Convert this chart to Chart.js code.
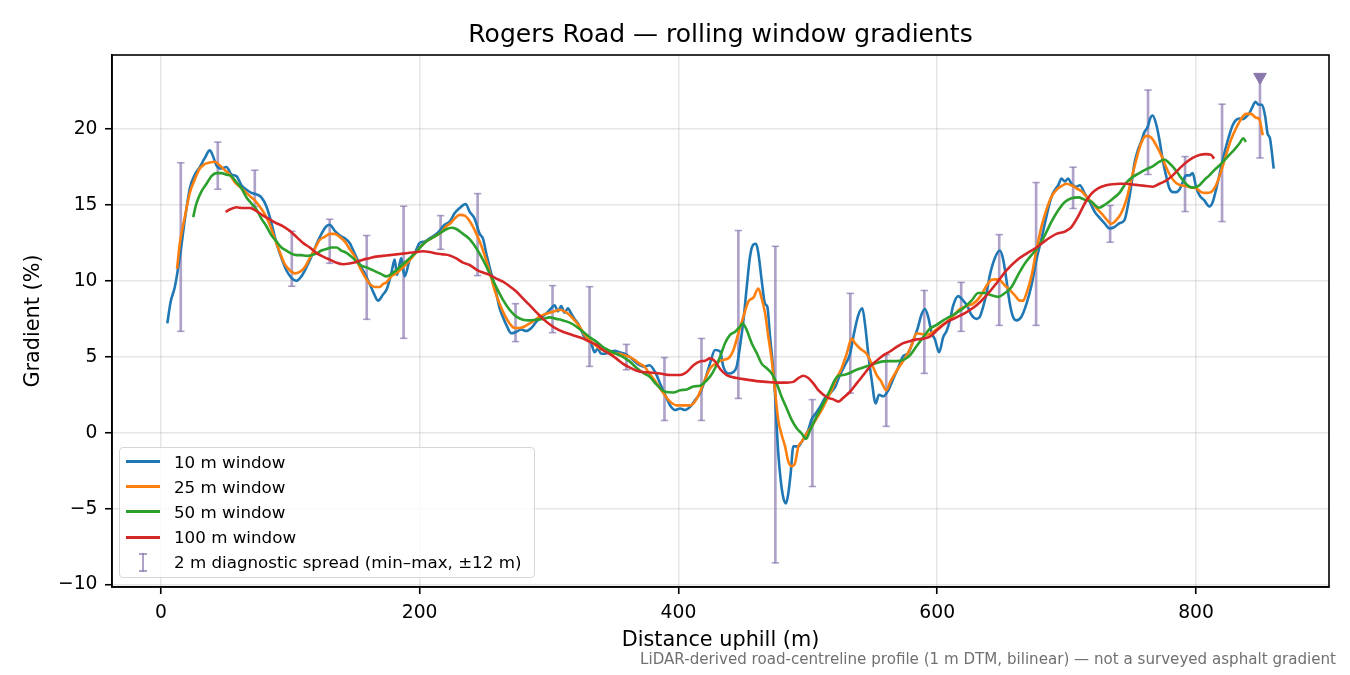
<!DOCTYPE html>
<html>
<head>
<meta charset="utf-8">
<title>Rogers Road — rolling window gradients</title>
<script src="https://cdn.jsdelivr.net/npm/chart.js@4.4.1/dist/chart.umd.min.js"></script>
<style>
  html, body { margin: 0; padding: 0; background: #fff; }
  #wrap { position: relative; width: 1350px; height: 675px; font-family: "DejaVu Sans", sans-serif; }
  #legend { position: absolute; left: 119px; top: 447px; width: 416px; height: 131px; box-sizing: border-box;
            border: 1px solid #d6d6d6; border-radius: 4px; background: rgba(255,255,255,0.8); }
  .row { position: absolute; left: 0; height: 25px; display: flex; align-items: center;
         font-size: 16.7px; color: #000; white-space: nowrap; }
  .swatch { width: 34px; height: 3px; margin-left: 6px; margin-right: 14px; }
  .errglyph { position: relative; width: 34px; height: 19px; margin-left: 6px; margin-right: 14px; }
  .errglyph span { position: absolute; }
  #note { position: absolute; right: 14px; top: 651px; font-size: 15.1px; line-height: 17px;
          color: #707070; white-space: nowrap; }
</style>
</head>
<body>
<div id="wrap">
  <canvas id="c" width="1350" height="675"></canvas>
  <div id="legend"></div>
  <div id="note">LiDAR-derived road-centreline profile (1 m DTM, bilinear) — not a surveyed asphalt gradient</div>
</div>
<script>
// 10 m window
const dist10 = [
  5,7.5,10.8,14.7,18.5,22.4,26.3,30.1,34,37.8,
  40.4,43,46.8,50.7,54.6,58.4,62.3,66.2,70,73.9,
  77.7,81.6,85.5,89.3,93.2,97,100.9,104.8,108.6,112.5,
  116.3,120.2,124.1,127.9,130.5,134.4,138.2,142.1,145.9,149.8,
  153.7,157.5,161.4,164.5,167.8,171.7,174.8,178.1,180.7,182.5,
  185.8,188.4,192.3,196.1,200,203.9,207.7,211.6,215.4,219.3,
  223.2,227,230.9,235.6,238.6,242.5,246.4,248.9,251.5,254.1,
  256.7,259.2,261.8,264.4,267.5,270.8,274.7,278.5,282.4,286.3,
  290.1,294,297.8,301.7,304.3,306.9,309.4,312,314.6,317.1,
  319.7,322.3,324.9,327.4,330,332.6,335.2,337.7,340.3,342.9,
  346.8,350.6,354.5,358.3,362.2,366.1,369.9,373.8,377.6,382,
  385.8,389.7,393.6,397.4,401.3,405.1,409,412.9,416.7,420.6,
  424.5,428.3,432.2,434.7,438.6,442.5,445,447.6,450.2,452.8,
  455.3,457.9,460,461.8,464.3,466.9,468.7,470.8,472.8,474.6,
  475.9,477.2,479,481.1,483.1,484.9,486.7,488.8,490.9,492.7,
  495.2,497.8,500.4,503,505.5,509.4,513.3,517.1,521,524.8,
  528.7,532.6,535.7,539,542.1,544.1,546.7,549.3,552.4,555,
  558.3,562.2,566,569.9,573.7,577.6,581.5,584.6,587.9,590.5,
  593.1,595.6,598.2,601.5,604.6,607.2,609.8,612.4,616.2,620.1,
  623.2,626.5,630.4,633,635.5,638.1,640.7,644.5,648.4,651,
  653.5,656.1,658.7,661.3,665.1,669,672.8,676.7,680.6,684.4,
  688.3,690.9,693.5,696,698.6,701.2,703.7,707.6,710.2,714,
  717.9,721.7,725.5,729.2,733.1,737,740.8,744.7,747.2,749.8,
  752.4,755,757.5,760.1,762.7,764.5,766.5,769.1,771.7,774.3,
  776.8,779.4,782,784.6,787.1,789.7,792.3,794.9,797.4,800,
  802.6,806.4,810.3,812.9,815.4,818,820.6,823.2,825.7,828.3,
  830.9,833.5,836,838.6,841.2,843.8,845.8,848.4,851,853.5,
  855.3,857.1,860
];
const grad10 = [
  7.2,8.6,9.6,11.6,14.0,16.1,17.0,17.5,18.1,18.6,
  18.2,17.6,17.4,17.5,17.0,16.9,16.3,16.0,15.8,15.7,
  15.5,14.9,13.8,12.5,11.5,10.7,10.2,10.0,10.3,10.9,
  11.6,12.4,13.1,13.6,13.7,13.3,13.0,12.8,12.5,11.8,
  11.1,10.5,9.8,9.2,8.7,9.1,9.5,10.5,11.4,10.4,
  11.5,10.3,11.4,11.8,12.5,12.6,12.8,13.0,13.3,13.7,
  13.9,14.45,14.8,15.07,14.56,14.1,13.1,12.8,11.8,10.9,
  10.05,9.2,8.2,7.6,7.0,6.55,6.65,6.8,6.7,6.9,
  7.3,7.6,7.85,8.2,8.4,8.0,8.35,7.9,8.2,7.85,
  7.5,7.2,6.75,6.3,6.2,5.9,5.3,5.55,5.2,5.2,
  5.3,5.4,5.3,5.2,5.0,4.7,4.45,4.35,4.45,4.0,
  3.25,2.5,1.8,1.5,1.6,1.5,1.7,2.15,2.6,3.5,
  4.6,5.45,5.35,4.35,3.9,4.0,4.35,5.7,7.4,9.6,
  11.6,12.4,12.45,11.8,10.05,8.5,8.3,6.3,4.6,2.6,
  0.4,-1.4,-3.1,-4.3,-4.66,-4.0,-2.7,-0.9,-0.9,-0.9,
  -0.6,-0.25,0.2,0.9,1.2,1.7,2.3,2.6,3.0,3.8,
  4.46,5.2,6.55,7.75,8.2,7.2,5.2,3.5,1.93,2.5,
  2.4,2.8,3.55,4.3,5.05,5.25,6.1,6.8,7.8,8.15,
  7.6,6.6,6.15,5.3,6.3,6.7,7.4,8.4,9.0,8.7,
  8.35,7.75,7.5,7.65,8.3,9.2,10.4,11.5,12.0,11.4,
  10.05,8.5,7.6,7.4,7.65,8.5,9.7,11.4,12.8,14.25,
  15.55,16.0,16.3,16.75,16.55,16.75,16.4,16.2,16.3,15.75,
  15.2,14.55,14.15,13.8,13.45,13.55,13.8,14.0,14.9,16.2,
  17.75,18.6,19.15,19.8,20.15,20.7,20.9,20.35,19.3,17.95,
  16.95,16.1,15.85,15.85,16.0,16.5,16.95,16.95,17.1,16.2,
  15.65,15.3,14.9,15.2,16.0,16.95,17.95,18.85,19.6,20.25,
  20.6,20.7,20.65,20.8,21.05,21.5,21.8,21.6,21.6,20.8,
  19.7,19.4,17.4
];

// 25 m window
const dist25 = [
  12.5,14.7,18.5,22.4,26.3,30.1,34,37.8,41.7,45.6,
  49.4,53.3,57.1,61,64.9,68.7,72.6,76.4,80.3,84.2,
  88,91.9,95.8,99.6,103.5,107.3,111.2,115.1,118.9,122.8,
  126.6,130.5,134.4,138.2,142.1,145.9,149.8,153.7,157.5,161.4,
  165.3,169.1,171.7,174.3,178.1,182,185.8,189.7,193.6,197.4,
  201.3,205.1,209,212.9,216.7,220.6,224.5,227,230.9,234.8,
  238.6,242.5,246.4,250.2,254.1,257.9,261.8,265.7,269.5,273.4,
  277.3,281.1,285,288.8,292.7,296.6,300.4,304.3,308.1,312,
  315.9,319.7,323.6,327.4,331.3,335.2,339,342.9,346.8,350.6,
  354.5,358.3,362.2,366.1,369.9,373.8,377.6,383.3,388.4,393.6,
  398.7,403.9,409,414.2,419.3,424.5,429.6,434.7,438.6,442.5,
  446.3,450.2,454.1,457.9,461.8,464.3,466.9,469.5,472.1,474.6,
  477.2,479.8,482.4,484.9,487.5,490.1,492.7,495.2,499.1,503,
  506.8,510.7,514.5,518.4,522.3,526.1,530,533.9,536.4,540.3,
  545.4,549.3,553.2,556.5,560.6,564,569.9,575,580.2,584,
  587.9,591.8,596.9,602.1,607.2,612.4,617.5,622.7,627.8,633,
  636.8,640.7,644.5,648.4,652.3,656.1,660,663.8,666.4,669,
  672.8,676.7,680.6,684.4,688.3,692.1,696,699.9,703.7,707.6,
  711.5,715.3,719.2,723,726.9,730.8,734.5,738.3,742.1,746,
  749.8,753.7,757.5,761.4,765.3,769.1,773,776.8,780.7,784.6,
  788.4,792.3,796.1,800,803.9,807.7,811.6,815.4,819.3,823.2,
  827,830.9,834.7,838.6,842.5,846.3,848.9,851.5
];
const grad25 = [
  10.8,12.5,14.2,15.8,16.7,17.4,17.7,17.8,17.85,17.6,
  17.3,17.0,16.5,16.2,15.9,15.6,15.3,14.9,14.4,13.7,
  12.8,11.9,11.1,10.7,10.5,10.6,10.9,11.5,12.1,12.7,
  12.9,13.1,13.1,12.9,12.6,12.1,11.6,10.9,10.3,9.8,
  9.6,9.6,9.8,9.9,10.3,10.5,10.8,11.1,11.5,11.9,
  12.3,12.6,12.8,13.0,13.2,13.6,13.85,14.1,14.35,14.3,
  13.95,13.35,12.6,11.7,10.6,9.4,8.5,7.75,7.2,6.9,
  6.9,7.0,7.2,7.4,7.65,7.8,7.9,8.0,8.1,8.0,
  7.75,7.4,7.0,6.45,6.1,5.8,5.55,5.4,5.3,5.2,
  5.2,5.1,5.0,4.8,4.55,4.35,3.9,3.25,2.6,2.05,
  1.8,1.8,1.8,2.25,3.25,4.25,4.6,4.8,4.9,5.45,
  6.55,7.65,8.65,8.9,9.5,8.85,7.9,6.3,4.8,2.8,
  0.8,-0.15,-0.9,-1.9,-2.2,-2.0,-0.9,-0.6,-0.05,0.4,
  0.95,1.5,2.15,2.8,3.6,4.25,5.2,6.2,5.9,5.55,
  5.2,4.55,3.8,3.4,2.8,3.4,4.25,4.9,5.75,6.55,
  6.5,6.45,6.65,7.0,7.3,7.7,8.15,8.35,8.5,8.95,
  9.5,10.0,10.1,10.05,9.7,9.4,9.05,8.7,8.7,9.2,
  10.3,12.05,13.6,14.7,15.55,16.0,16.25,16.4,16.3,16.1,
  15.9,15.55,15.2,14.8,14.45,14.05,13.77,14.0,14.45,15.3,
  16.6,17.95,19.05,19.55,19.45,18.95,18.3,17.5,16.85,16.45,
  16.3,16.25,16.15,16.1,15.85,15.8,15.85,16.3,17.2,18.3,
  19.3,20.05,20.65,21.0,21.0,20.75,20.65,19.6
];

// 50 m window
const dist50 = [
  25,27.5,31.4,35.3,39.1,43,46.8,50.7,54.6,58.4,
  62.3,66.2,70,73.9,77.7,81.6,85.5,89.3,93.2,97,
  100.9,104.8,108.6,112.5,116.3,120.2,124.1,127.9,131.8,135.7,
  139.5,143.4,147.2,151.1,155,158.8,162.7,166.5,170.4,174.3,
  178.1,182,185.8,189.7,193.6,197.4,201.3,205.1,209,212.9,
  216.7,220.6,224.5,228.3,233.5,238.6,243.8,248.9,254.1,259.2,
  264.4,269.5,274.7,279.8,285,290.1,295.3,300.4,305.6,310.7,
  315.9,321,326.2,331.3,336.5,341.6,346.8,351.9,357,362.2,
  367.3,372.5,377.6,383.3,389.7,396.1,401.3,406.4,411.6,416.7,
  420.6,424.5,428.3,432.2,436,439.9,443.8,447.6,449.7,452.8,
  456.6,460.5,464.3,468.2,472.1,475.9,479.8,483.7,487.5,491.4,
  495.2,498.6,501.7,505.5,509.4,513.3,517.1,521,523.6,527.4,
  532.6,537.7,542.9,548,553.2,558.3,563.4,568.6,573.7,578.9,
  584,589.2,594.3,599.5,604.6,609.8,614.9,620.1,626.5,631.7,
  636.8,642,647.1,652.3,657.4,662.5,667.7,672.8,678,683.1,
  688.3,693.5,698.6,703.7,708.9,714,719.2,725,730,735,
  741,745.9,751.1,756.2,761.4,766.5,771.7,775.5,779.4,783.3,
  787.1,791,794.9,798.7,802.6,806.4,810.3,814.2,818,821.9,
  825.7,829.6,833.5,836.6,838.5
];
const grad50 = [
  14.2,15.1,15.9,16.4,16.9,17.1,17.1,17.0,16.9,16.5,
  16.1,15.5,15.1,14.7,14.1,13.6,13.0,12.6,12.2,12.0,
  11.8,11.7,11.7,11.65,11.7,11.8,12.0,12.1,12.2,12.2,
  12.0,11.85,11.6,11.3,11.0,10.9,10.75,10.6,10.45,10.3,
  10.45,10.7,11.0,11.3,11.6,11.9,12.3,12.6,12.8,13.0,
  13.2,13.4,13.5,13.42,13.1,12.75,12.15,11.4,10.5,9.6,
  8.75,8.1,7.65,7.45,7.4,7.45,7.5,7.6,7.5,7.4,
  7.25,7.0,6.65,6.3,6.0,5.65,5.4,5.2,5.0,4.7,
  4.3,3.95,3.7,3.15,2.7,2.65,2.8,2.85,3.05,3.1,
  3.35,3.7,4.25,5.0,5.9,6.45,6.65,7.0,7.2,6.75,
  5.9,5.25,4.55,4.25,3.9,3.25,2.35,1.6,0.85,0.3,
  -0.05,-0.4,0.15,0.85,1.5,2.15,2.8,3.5,3.75,3.8,
  3.95,4.15,4.3,4.45,4.6,4.7,4.72,4.72,4.8,5.1,
  5.7,6.3,6.85,7.1,7.4,7.65,7.9,8.2,8.7,9.2,
  9.2,9.05,8.95,9.2,9.6,10.4,11.15,11.7,12.25,13.0,
  13.9,14.65,15.2,15.45,15.5,15.35,15.2,14.82,15.05,15.37,
  15.82,16.45,16.85,17.1,17.35,17.55,17.85,18.0,17.75,17.4,
  16.95,16.5,16.2,16.15,16.3,16.65,16.95,17.3,17.6,17.95,
  18.3,18.65,19.05,19.4,19.15
];

// 100 m window
const dist100 = [
  50,53.3,58.4,63.6,68.7,73.9,79,84.2,89.3,94.5,
  99.6,104.8,109.9,115.1,120.2,125.4,130.5,135.7,140.8,145.9,
  151.1,156.2,161.4,166.5,171.7,176.8,182,187.1,192.3,197.4,
  202.6,207.7,212.9,218,223.2,228.3,233.5,238.6,243.8,248.9,
  254.1,259.2,264.4,269.5,274.7,279.8,285,290.1,295.3,300.4,
  305.6,310.7,315.9,321,326.2,331.3,336.5,341.6,346.8,351.9,
  357,362.2,367.3,372.5,377.6,385.8,393.6,401.3,406.4,411.6,
  416.7,420.6,424.5,428.3,432.2,437.3,445,452.8,460.5,468.2,
  475.9,483.7,488.8,492.7,496.5,500.4,504.2,508.1,512,515.8,
  519.7,523.6,527.4,532.6,537.7,542.9,548,553.2,558.3,563.4,
  568.6,573.7,578.9,584,589.2,594.3,600.2,607.2,614.9,622.7,
  630.4,638.1,645.8,653.5,661.3,669,676.7,684.4,692.1,698.6,
  703.7,708.9,714,719.2,724.3,730.5,735.6,740.8,745.9,751.1,
  756.2,761.4,766.5,771.7,776.8,782,787.1,792.3,797.4,802.6,
  807.7,811.6,814
];
const grad100 = [
  14.55,14.7,14.85,14.8,14.8,14.6,14.3,14.05,13.8,13.6,
  13.3,12.9,12.5,12.2,11.85,11.6,11.4,11.2,11.1,11.15,
  11.25,11.4,11.5,11.6,11.65,11.7,11.75,11.8,11.85,11.9,
  11.95,11.9,11.8,11.75,11.68,11.48,11.2,11.05,10.75,10.55,
  10.4,10.15,9.95,9.65,9.3,8.85,8.4,7.95,7.5,7.15,
  6.85,6.65,6.5,6.35,6.2,6.0,5.8,5.45,5.2,4.9,
  4.55,4.3,4.1,4.0,3.97,3.9,3.8,3.8,4.0,4.45,
  4.7,4.75,4.9,4.7,4.2,3.8,3.6,3.5,3.4,3.35,
  3.3,3.3,3.35,3.6,3.75,3.6,3.25,2.8,2.5,2.3,
  2.2,2.05,2.3,2.7,3.25,3.8,4.35,4.75,5.1,5.35,
  5.65,5.9,6.03,6.15,6.2,6.33,6.78,7.27,7.6,7.95,
  8.4,9.05,9.85,10.7,11.35,11.8,12.2,12.7,13.1,13.25,
  13.55,14.25,15.1,15.75,16.1,16.3,16.37,16.4,16.4,16.35,
  16.3,16.25,16.2,16.4,16.6,16.95,17.4,17.8,18.1,18.3,
  18.35,18.3,18.05
];

// 2 m diagnostic spread (min–max within ±12 m)
const errDist = [15.4,44,72.6,101.2,130.5,159.1,187.6,216.2,244.8,274.1,
                 302.7,331.3,359.8,389.2,417.8,446.3,474.9,503.5,532.8,560.6,
                 590,618.5,647.9,676.4,705,733.6,762.9,791.5,820.1,849.4];
const errLow  = [6.68,16.04,14.9,9.65,11.16,7.47,6.22,12.08,10.35,6.0,
                 6.59,4.37,4.15,0.81,0.81,2.26,-8.57,-3.54,2.61,0.42,
                 3.91,6.68,7.07,7.07,14.77,12.55,17.01,14.57,13.91,18.1];
const errHigh = [17.78,19.14,17.29,13.27,14.06,12.99,14.92,14.3,15.75,8.5,
                 9.69,9.62,5.82,4.95,6.21,13.32,12.28,2.18,9.18,5.14,
                 9.37,9.9,13.05,16.48,17.49,14.97,22.57,18.19,21.64,23.43];

// steepest 2 m value marker
const peakDist = [849.4];
const peakGrad = [23.43];

const seriesLabels = ['10 m window', '25 m window', '50 m window', '100 m window'];
const seriesColors = ['#1f77b4', '#ff7f0e', '#2ca02c', '#d62728'];
const spreadLabel = '2 m diagnostic spread (min–max, ±12 m)';
const errColor = 'rgba(140,122,178,0.7)';
const peakColor = '#8a78ad';

const xTicks = [0, 200, 400, 600, 800];
const yTicks = [-10, -5, 0, 5, 10, 15, 20];
const xMin = -37.75, xMax = 902.75;
const yMin = -10.16, yMax = 24.88;

Chart.defaults.font.family = '"DejaVu Sans", sans-serif';
Chart.defaults.color = '#000';

const fmt = v => (v < 0 ? '\u2212' + Math.abs(v) : String(v));
const pts = (xs, ys) => xs.map((x, i) => ({ x: x, y: ys[i] }));

function windowLine(i, xs, ys) {
  return {
    type: 'line',
    label: seriesLabels[i],
    order: 4 - i,
    data: pts(xs, ys),
    borderColor: seriesColors[i],
    backgroundColor: seriesColors[i],
    borderWidth: 2.6,
    pointRadius: 0,
    pointHoverRadius: 0,
    fill: false,
    cubicInterpolationMode: 'monotone',
    borderJoinStyle: 'round'
  };
}

const capPoints = pts(errDist, errLow).concat(pts(errDist, errHigh));

// box round the plot area, like the matplotlib spines
const frame = {
  id: 'frame',
  afterDatasetsDraw(chart) {
    const { ctx, chartArea: a } = chart;
    ctx.save();
    ctx.strokeStyle = '#000';
    ctx.lineWidth = 1.6;
    ctx.strokeRect(a.left, a.top, a.right - a.left, a.bottom - a.top);
    ctx.restore();
  }
};

const chart = new Chart(document.getElementById('c'), {
  type: 'line',
  data: {
    datasets: [
      windowLine(0, dist10, grad10),
      windowLine(1, dist25, grad25),
      windowLine(2, dist50, grad50),
      windowLine(3, dist100, grad100),
      {
        type: 'bar',
        label: spreadLabel,
        order: 6,
        data: errDist.map((x, i) => ({ x: x, y: [errLow[i], errHigh[i]] })),
        backgroundColor: errColor,
        borderWidth: 0,
        barThickness: 2
      },
      {
        type: 'line',
        label: 'caps',
        order: 5,
        showLine: false,
        data: capPoints,
        pointStyle: 'line',
        pointRadius: 3.7,
        pointHoverRadius: 3.7,
        pointBorderWidth: 1.6,
        pointBorderColor: errColor
      },
      {
        type: 'line',
        label: 'peak',
        order: 0,
        showLine: false,
        data: pts(peakDist, peakGrad),
        pointStyle: 'triangle',
        pointRotation: 180,
        pointRadius: 7.3,
        pointHoverRadius: 7.3,
        pointBackgroundColor: peakColor,
        pointBorderColor: peakColor,
        pointBorderWidth: 1
      }
    ]
  },
  options: {
    responsive: false,
    animation: false,
    devicePixelRatio: 1,
    events: [],
    layout: { padding: { left: 0, right: 21, top: 0, bottom: 21 } },
    plugins: {
      legend: { display: false },
      tooltip: { enabled: false },
      title: {
        display: true,
        text: 'Rogers Road — rolling window gradients',
        fullSize: false,
        color: '#000',
        font: { size: 25, weight: 'normal' },
        padding: { top: 20, bottom: 5 }
      }
    },
    scales: {
      x: {
        type: 'linear',
        min: xMin,
        max: xMax,
        offset: false,
        afterFit: s => { s.height = 67; },
        afterBuildTicks: s => { s.ticks = xTicks.map(v => ({ value: v })); },
        ticks: { autoSkip: false, maxRotation: 0, padding: 8, color: '#000',
                 font: { size: 18.75 }, callback: v => fmt(v) },
        grid: { offset: false, color: 'rgba(176,176,176,0.32)', lineWidth: 1.5,
                tickColor: '#000', tickLength: 7, tickWidth: 1.6 },
        border: { color: '#000', width: 1.6 },
        title: { display: true, text: 'Distance uphill (m)', color: '#000',
                 font: { size: 20.8 }, padding: { top: 0, bottom: 0.5 } }
      },
      y: {
        type: 'linear',
        min: yMin,
        max: yMax,
        afterFit: s => { s.width = 112; },
        afterBuildTicks: s => { s.ticks = yTicks.map(v => ({ value: v })); },
        ticks: { autoSkip: false, padding: 7.5, color: '#000',
                 font: { size: 18.75 }, callback: v => fmt(v) },
        grid: { color: 'rgba(176,176,176,0.32)', lineWidth: 1.5,
                tickColor: '#000', tickLength: 7, tickWidth: 1.6 },
        border: { color: '#000', width: 1.6 },
        title: { display: true, text: 'Gradient (%)', color: '#000',
                 font: { size: 20.8 }, padding: { top: 21.5, bottom: 0 } }
      }
    }
  },
  plugins: [frame]
});

// legend in the lower left of the axes, built from the chart's datasets
const legend = document.getElementById('legend');
const rowTops = [1, 26.2, 51.4, 76.6, 101.8];
chart.data.datasets.slice(0, 4).forEach((ds, i) => {
  const row = document.createElement('div');
  row.className = 'row';
  row.style.top = rowTops[i] + 'px';
  const sw = document.createElement('div');
  sw.className = 'swatch';
  sw.style.background = ds.borderColor;
  row.appendChild(sw);
  row.appendChild(document.createTextNode(ds.label));
  legend.appendChild(row);
});
const errRow = document.createElement('div');
errRow.className = 'row';
errRow.style.top = rowTops[4] + 'px';
errRow.innerHTML =
  '<div class="errglyph">' +
  '<span style="left:16px;top:0;width:2px;height:19px;background:' + errColor + '"></span>' +
  '<span style="left:13px;top:0;width:8px;height:2px;background:' + errColor + '"></span>' +
  '<span style="left:13px;top:17px;width:8px;height:2px;background:' + errColor + '"></span>' +
  '</div>';
errRow.appendChild(document.createTextNode(chart.data.datasets[4].label));
legend.appendChild(errRow);
</script>
</body>
</html>
